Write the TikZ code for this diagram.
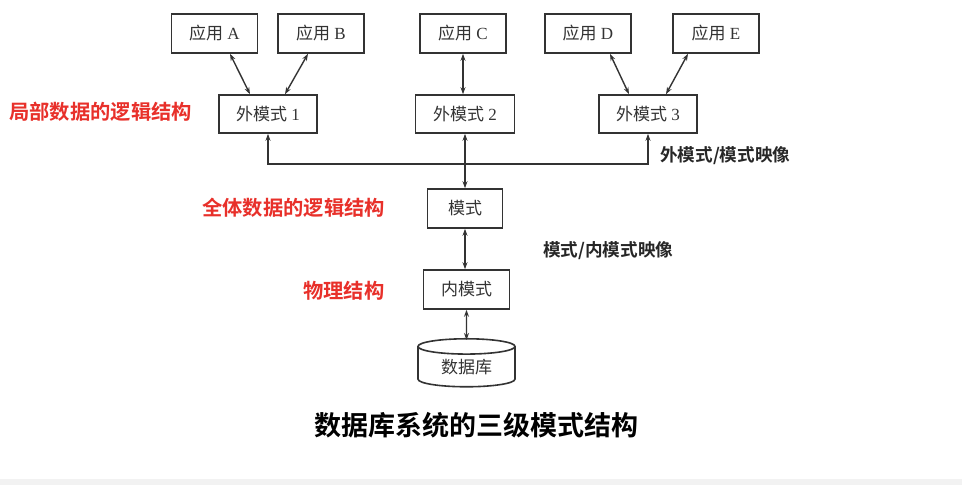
\documentclass[tikz,border=0pt]{standalone}
\usepackage{fontspec}
\setmainfont{Liberation Serif}
\newfontfamily\cjk{Noto Sans CJK SC}
\newfontfamily\cjkbf{Noto Sans CJK SC Bold}
\usetikzlibrary{arrows.meta,shapes.geometric}
\definecolor{labelred}{HTML}{E8302A}
\definecolor{boxgray}{HTML}{333333}

\tikzstyle{schemabox} = [rectangle, draw=boxgray, line width=1.6pt, minimum width=86pt, minimum height=39pt, inner sep=0pt, text=boxgray, font=\fontsize{17}{20}\selectfont]
\tikzstyle{levellabel} = [anchor=west, inner sep=0pt, text=labelred, font=\cjkbf\fontsize{20.3}{24}\selectfont]
\tikzstyle{maplabel} = [anchor=west, inner sep=0pt, text=black!85, font=\cjkbf\fontsize{17.6}{21}\selectfont]
\tikzstyle{link} = [line width=1.4pt, draw=boxgray, {Stealth[length=7pt,width=5pt]}-{Stealth[length=7pt,width=5pt]}]
\tikzstyle{uplink} = [line width=1.4pt, draw=boxgray, -{Stealth[length=7pt,width=5pt]}]

\begin{document}
\begin{tikzpicture}[x=1pt, y=-1pt]
    \fill[white] (0,0) rectangle (962,485);
    \fill[black!5] (0,479) rectangle (962,485);
	\node (AppA) at (214.5,33.5) [schemabox] {{\cjk 应用} A};
	\node (AppB) at (321,33.5) [schemabox] {{\cjk 应用} B};
	\node (AppC) at (463,33.5) [schemabox] {{\cjk 应用} C};
	\node (AppD) at (588,33.5) [schemabox] {{\cjk 应用} D};
	\node (AppE) at (716,33.5) [schemabox] {{\cjk 应用} E};
	\node (Ext1) at (268,114) [schemabox, minimum width=98pt, minimum height=38pt] {{\cjk 外模式} 1};
	\node (Ext2) at (465,114) [schemabox, minimum width=99pt, minimum height=38pt] {{\cjk 外模式} 2};
	\node (Ext3) at (648,114) [schemabox, minimum width=98pt, minimum height=38pt] {{\cjk 外模式} 3};
	\node (Schema) at (465,208.5) [schemabox, minimum width=75pt] {\cjk 模式};
	\node (Internal) at (466.5,289.5) [schemabox] {\cjk 内模式};
	\node (DB) at (466.5,367) [cylinder, shape border rotate=90, aspect=0.3, draw=boxgray, line width=1.6pt, minimum width=97pt, minimum height=48pt, inner sep=0pt, text=boxgray, font=\cjk\fontsize{17}{20}\selectfont] {数据库};
	\coordinate (Bus) at (465,164);
	%levels
	\node (Local) at (9,112) [levellabel] {局部数据的逻辑结构};
	\node (Global) at (202,208) [levellabel] {全体数据的逻辑结构};
	\node (Physical) at (303,291) [levellabel] {物理结构};
	\node (ExtMap) at (660,156) [maplabel] {外模式/模式映像};
	\node (IntMap) at (543,251) [maplabel] {模式/内模式映像};
	\node (Title) at (476.5,425) [font=\cjkbf\fontsize{27}{31}\selectfont] {数据库系统的三级模式结构};
	%connectors
	\draw [link] ([xshift=15.5pt]AppA.south) -- ([xshift=-18pt]Ext1.north);
	\draw [link] ([xshift=-13pt]AppB.south) -- ([xshift=17pt]Ext1.north);
	\draw [link] (AppC.south) -- (AppC.south |- Ext2.north);
	\draw [link] ([xshift=22pt]AppD.south) -- ([xshift=-19pt]Ext3.north);
	\draw [link] ([xshift=-28pt]AppE.south) -- ([xshift=18pt]Ext3.north);
	\draw [uplink] (Bus) -| (Ext1.south);
	\draw [uplink] (Bus) -| (Ext3.south);
	\draw [link] (Ext2.south) -- (Schema.north);
	\draw [link] (Schema.south) -- (Schema.south |- Internal.north);
	\draw [link] (Internal.south) -- ([yshift=-2pt]DB.north);
\end{tikzpicture}
\end{document}
